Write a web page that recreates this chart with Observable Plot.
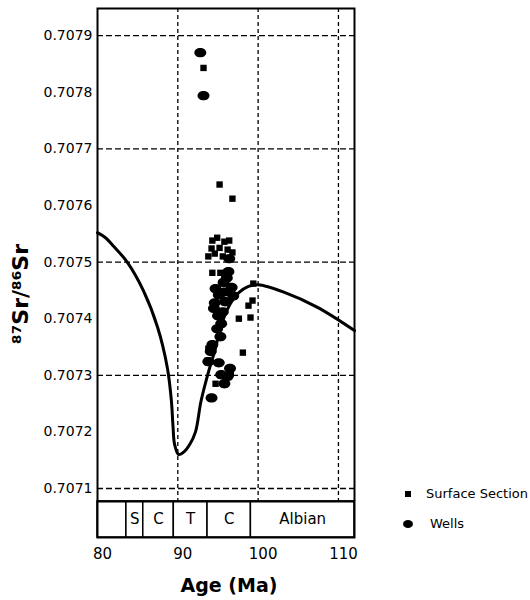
<!DOCTYPE html>
<html>
<head>
<meta charset="utf-8">
<script src="https://cdn.jsdelivr.net/npm/d3@7"></script>
<script src="https://cdn.jsdelivr.net/npm/@observablehq/plot@0.6"></script>
<style>
  html, body { margin: 0; padding: 0; background: white; }
  #chart { position: relative; width: 530px; height: 600px; font-family: "DejaVu Sans", sans-serif; color: black; }
  #main, #band { position: absolute; left: 0; }
  #main { top: 0; }
  #band { top: 501px; }
  .key { position: absolute; font-size: 13px; line-height: 16px; white-space: nowrap; }
  .sq { position: absolute; width: 6px; height: 6px; background: black; }
  .el { position: absolute; width: 10px; height: 8px; border-radius: 50%; background: black; }
</style>
</head>
<body>
<div id="chart">
  <div id="main"></div>
  <div id="band"></div>
  <div class="sq" style="left:405px; top:491px;"></div>
  <div class="key" style="left:426px; top:486px;">Surface Section</div>
  <div class="el" style="left:403px; top:520px;"></div>
  <div class="key" style="left:430px; top:516px;">Wells</div>
</div>
<script>
// Seawater Sr-isotope reference curve (age in Ma, 87Sr/86Sr)
const curveAge = [80, 81, 82, 83.7, 85.7, 87.5, 88.7, 89.2, 89.4, 89.6, 90.1, 90.8, 91.5, 92.2, 92.9, 93.9, 94.6, 95.4, 96.4, 97.6, 98.8, 100, 103.2, 107.4, 112];
const curveSr = [0.707552, 0.707543, 0.707528, 0.7075, 0.70745, 0.707384, 0.707313, 0.707255, 0.70721, 0.707178, 0.70716, 0.707165, 0.707178, 0.7072, 0.707255, 0.70731, 0.707343, 0.707388, 0.707423, 0.707446, 0.707457, 0.70746, 0.707447, 0.70742, 0.707379];

// Surface section samples
const surfaceAge = [93.2, 95.2, 96.8, 94.3, 94.9, 95.8, 96.4, 94.2, 95.2, 96.2, 96.8, 93.8, 94.6, 95.6, 94.3, 95.3, 98.8, 99.3, 99.4, 97.6, 99.05, 98.1, 94.7, 96.6, 93.8, 93.7];
const surfaceSr = [0.707843, 0.707637, 0.707612, 0.707538, 0.707543, 0.707536, 0.707538, 0.707524, 0.707525, 0.707522, 0.707517, 0.70751, 0.707515, 0.70751, 0.707481, 0.707481, 0.707423, 0.707432, 0.707462, 0.7074, 0.707402, 0.70734, 0.707285, 0.707303, 0.707347, 0.707326];

// Well samples
const wellsAge = [92.8, 93.2, 96.4, 96.3, 95.7, 94.7, 96.7, 95.1, 96.9, 94.6, 95.9, 95.6, 95.4, 95.3, 94.3, 94.1, 93.8, 95.1, 95.4, 96.2, 95.8, 94.2, 96.1, 95.0, 95.8, 94.9, 94.5, 96.5];
const wellsSr = [0.70787, 0.707794, 0.707506, 0.707483, 0.707464, 0.707453, 0.707455, 0.707442, 0.70744, 0.707428, 0.70743, 0.707412, 0.707391, 0.707368, 0.707354, 0.707342, 0.707324, 0.707322, 0.707301, 0.707298, 0.707285, 0.70726, 0.707472, 0.707405, 0.707447, 0.707382, 0.707418, 0.707312];

// Axes and grid
const srTicks = [0.7071, 0.7072, 0.7073, 0.7074, 0.7075, 0.7076, 0.7077, 0.7078, 0.7079];
const srGrid = [0.7071, 0.7073, 0.7075, 0.7077, 0.7079];
const ageTicks = [80, 90, 100, 110];
const ageGrid = [90, 100, 110];

// Stratigraphic stages
const stageNames = ["", "S", "C", "T", "C", "Albian"];
const stageStart = [80, 83.6, 85.7, 89.5, 93.7, 99.1];
const stageEnd = [83.6, 85.7, 89.5, 93.7, 99.1, 112];

const curve = curveAge.map((a, i) => ({age: a, sr: curveSr[i]}));
const surface = surfaceAge.map((a, i) => ({age: a, sr: surfaceSr[i]}));
const wells = wellsAge.map((a, i) => ({age: a, sr: wellsSr[i]}));
const stages = stageNames.map((n, i) => ({name: n, start: stageStart[i], end: stageEnd[i], mid: (stageStart[i] + stageEnd[i]) / 2}));

// Slightly flattened ellipse used for the well markers
const ellipse = {
  draw(context, size) {
    const r = Math.sqrt(size / Math.PI);
    const rx = r * 1.15, ry = r * 0.9, k = 0.5523;
    context.moveTo(rx, 0);
    context.bezierCurveTo(rx, ry * k, rx * k, ry, 0, ry);
    context.bezierCurveTo(-rx * k, ry, -rx, ry * k, -rx, 0);
    context.bezierCurveTo(-rx, -ry * k, -rx * k, -ry, 0, -ry);
    context.bezierCurveTo(rx * k, -ry, rx, -ry * k, rx, 0);
    context.closePath();
  }
};

const xDomain = [80, 112];
const margins = {marginLeft: 97, marginRight: 176};
const style = {fontFamily: "DejaVu Sans, sans-serif", color: "black", background: "white", overflow: "visible"};

const main = Plot.plot({
  width: 530, height: 501,
  ...margins, marginTop: 8, marginBottom: 0,
  style,
  x: {domain: xDomain, axis: null},
  y: {domain: [0.707077, 0.707948]},
  marks: [
    Plot.ruleY(srGrid, {stroke: "black", strokeWidth: 1.3, strokeDasharray: "6,3"}),
    Plot.ruleX(ageGrid, {stroke: "black", strokeWidth: 1.3, strokeDasharray: "4,3"}),
    Plot.line(curve, {x: "age", y: "sr", curve: "catmull-rom", stroke: "black", strokeWidth: 3}),
    Plot.dot(wells, {x: "age", y: "sr", symbol: ellipse, r: 5.2, fill: "black", stroke: "none"}),
    Plot.dot(surface, {x: "age", y: "sr", symbol: "square", r: 3.6, fill: "black", stroke: "none"}),
    Plot.frame({stroke: "black", strokeWidth: 2}),
    Plot.axisY({ticks: srTicks, tickFormat: d3.format(".4f"), tickSize: 0, tickPadding: 5, fontSize: 14, label: null}),
    Plot.text(["⁸⁷Sr/⁸⁶Sr"], {frameAnchor: "left", textAnchor: "middle", rotate: -90, dx: -77, dy: 39, fontSize: 22, fontWeight: "bold"})
  ]
});
document.getElementById("main").append(main);

const band = Plot.plot({
  width: 530, height: 99,
  ...margins, marginTop: 0, marginBottom: 63,
  style,
  x: {domain: xDomain},
  marks: [
    Plot.rect(stages, {x1: "start", x2: "end", fill: "white", stroke: "black", strokeWidth: 1.5}),
    Plot.text(stages, {x: "mid", text: "name", frameAnchor: "middle", fontSize: 15}),
    Plot.frame({stroke: "black", strokeWidth: 2}),
    Plot.axisX({ticks: ageTicks, tickSize: 0, tickPadding: 11, fontSize: 15, label: null, dx: 5}),
    Plot.text(["Age (Ma)"], {frameAnchor: "bottom", lineAnchor: "middle", dx: 3, dy: 48, fontSize: 19, fontWeight: "bold"})
  ]
});
document.getElementById("band").append(band);
</script>
</body>
</html>
